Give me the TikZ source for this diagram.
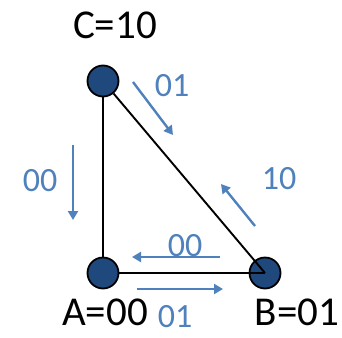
\documentclass[tikz,border=0pt]{standalone}
\usepackage{fontspec}
\setmainfont{Carlito}
\usetikzlibrary{arrows.meta}
\definecolor{nodefill}{RGB}{31,73,125}
\definecolor{lblue}{RGB}{79,129,189}
\begin{document}
\begin{tikzpicture}[x=1pt,y=-1pt,
  vert/.style={circle,draw=black,line width=1.8pt,fill=nodefill,minimum size=31pt,inner sep=0pt},
  edge/.style={line width=1.9pt,black},
  blab/.style={text=lblue,font=\fontsize{34}{34}\selectfont,inner sep=0pt},
  klab/.style={text=black,font=\fontsize{41}{41}\selectfont,inner sep=0pt},
  barrow/.style={draw=lblue,line width=2.4pt,-{Triangle[length=9pt,width=10pt]}}]
\useasboundingbox (0,0) rectangle (342,337);
\node[vert] (A) at (103,273) {};
\node[vert] (C) at (103,81) {};
\node[vert] (B) at (265,273) {};
\coordinate (Bc) at (265,273);
\draw[edge] (C) -- (A);
\draw[edge] (A.east) -- (Bc);
\draw[edge] (C) -- (Bc);
% labels
\node[klab] (lC) at (115,25) {C=10};
\node[klab] (lA) at (105,312) {A=00};
\node[klab] (lB) at (297,312) {B=01};
% blue arrows
\coordinate (a1s) at (73,145); \coordinate (a1e) at (73,220);
\draw[barrow] (a1s) -- (a1e);
\node[blab] (l1) at (40,181) {00};
\coordinate (a2s) at (133,82); \coordinate (a2e) at (173,135);
\draw[barrow] (a2s) -- (a2e);
\node[blab] (l2) at (172,86) {01};
\coordinate (a3s) at (255,226); \coordinate (a3e) at (221,184);
\draw[barrow] (a3s) -- (a3e);
\node[blab] (l3) at (279,179) {10};
\coordinate (a4s) at (220,257); \coordinate (a4e) at (132,257);
\draw[barrow] (a4s) -- (a4e);
\node[blab] (l4) at (185,246) {00};
\coordinate (a5s) at (137,289); \coordinate (a5e) at (223,289);
\draw[barrow] (a5s) -- (a5e);
\node[blab] (l5) at (175,317) {01};
\end{tikzpicture}
\end{document}
